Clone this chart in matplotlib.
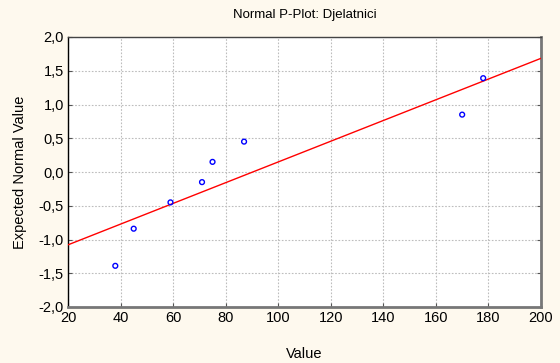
import matplotlib.pyplot as plt
import matplotlib.ticker as mticker
import numpy as np

plt.rcParams['font.family'] = ['Liberation Sans', 'DejaVu Sans']

values = [38, 45, 59, 71, 75, 87, 170, 178]
expected = [-1.39, -0.84, -0.45, -0.15, 0.15, 0.45, 0.85, 1.39]

bg = '#fef9ee'
fig = plt.figure(figsize=(5.6, 3.63), dpi=100, facecolor=bg)
ax = fig.add_axes([68 / 560, 1 - 307 / 363, 473 / 560, 270 / 363])
ax.set_facecolor('white')

# regression line through the points
k, b = np.polyfit(values, expected, 1)
xl = np.array([20, 200])
ax.plot(xl, k * xl + b, color='red', lw=1, zorder=3)

ax.scatter(values, expected, s=12, facecolors='none', edgecolors='blue', linewidths=1, zorder=4)

ax.set_xlim(20, 200)
ax.set_ylim(-2, 2)
ax.set_xticks(np.arange(20, 201, 20))
ax.set_yticks(np.arange(-2, 2.01, 0.5))
ax.yaxis.set_major_formatter(mticker.FuncFormatter(lambda v, p: ('%.1f' % v).replace('.', ',')))
ax.grid(True, color='#bdbdbd', ls=(0, (1.5, 1.5)), lw=0.8)
ax.tick_params(direction='in', length=3, labelsize=10.5, color='#555555',
               top=False, right=True, pad=3)

ax.spines['left'].set_color('black')
ax.spines['top'].set_color('#444444')
ax.spines['right'].set_color('#777777')
ax.spines['bottom'].set_color('#777777')
ax.spines['right'].set_linewidth(2)
ax.spines['bottom'].set_linewidth(2)
ax.spines['left'].set_linewidth(1)
ax.spines['top'].set_linewidth(1)

ax.set_title('Normal P-Plot: Djelatnici', fontsize=9.5, pad=14)
ax.set_xlabel('Value', fontsize=10.5, labelpad=16)
ax.set_ylabel('Expected Normal Value', fontsize=10.5, labelpad=8)

fig.savefig('out.png', dpi=100, facecolor=bg)
